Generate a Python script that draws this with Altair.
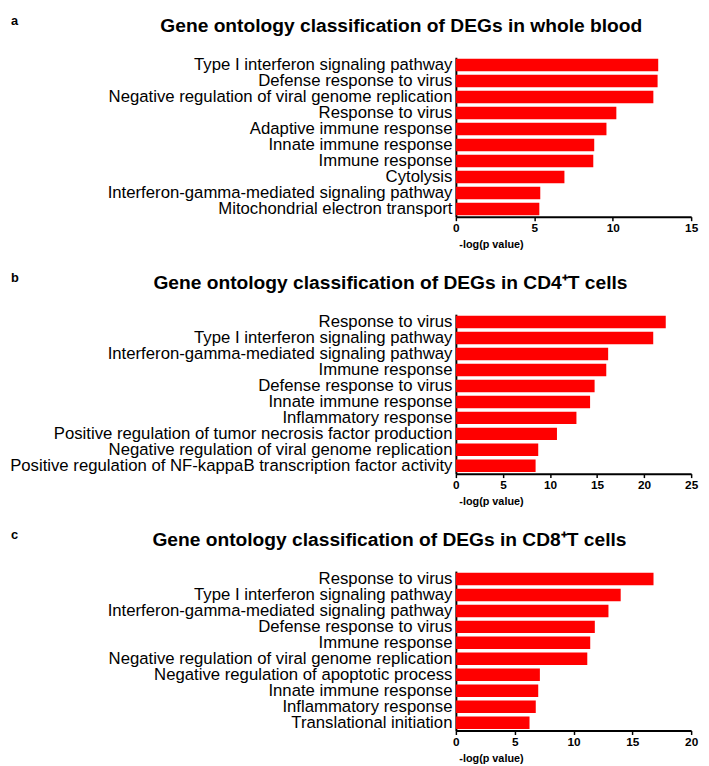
import altair as alt
import pandas as pd

# ---- data ----
a_terms = [
    "Type I interferon signaling pathway",
    "Defense response to virus",
    "Negative regulation of viral genome replication",
    "Response to virus",
    "Adaptive immune response",
    "Innate immune response",
    "Immune response",
    "Cytolysis",
    "Interferon-gamma-mediated signaling pathway",
    "Mitochondrial electron transport",
]
a_vals = [12.9, 12.86, 12.59, 10.23, 9.6, 8.82, 8.76, 6.92, 5.38, 5.32]

b_terms = [
    "Response to virus",
    "Type I interferon signaling pathway",
    "Interferon-gamma-mediated signaling pathway",
    "Immune response",
    "Defense response to virus",
    "Innate immune response",
    "Inflammatory response",
    "Positive regulation of tumor necrosis factor production",
    "Negative regulation of viral genome replication",
    "Positive regulation of NF-kappaB transcription factor activity",
]
b_vals = [22.3, 20.97, 16.18, 15.98, 14.74, 14.26, 12.81, 10.74, 8.75, 8.47]

c_terms = [
    "Response to virus",
    "Type I interferon signaling pathway",
    "Interferon-gamma-mediated signaling pathway",
    "Defense response to virus",
    "Immune response",
    "Negative regulation of viral genome replication",
    "Negative regulation of apoptotic process",
    "Innate immune response",
    "Inflammatory response",
    "Translational initiation",
]
c_vals = [16.8, 14.01, 12.97, 11.81, 11.42, 11.17, 7.14, 7.0, 6.79, 6.26]

a_ticks = [0, 5, 10, 15]
b_ticks = [0, 5, 10, 15, 20, 25]
c_ticks = [0, 5, 10, 15, 20]

titles = [
    "Gene ontology classification of DEGs in whole blood",
    "Gene ontology classification of DEGs in CD4\u207aT cells",
    "Gene ontology classification of DEGs in CD8\u207aT cells",
]
letters = ["a", "b", "c"]
x_title = "-log(p value)"

FONT = "Liberation Sans"
W, H = 239, 162
LETTER_X = -452


def panel(letter, title, terms, vals, ticks, title_dx):
    df = pd.DataFrame({"term": terms, "value": vals})
    bars = alt.Chart(df).mark_bar(color="#ff0000").encode(
        x=alt.X(
            "value:Q",
            scale=alt.Scale(domain=[ticks[0], ticks[-1]], nice=False),
            axis=alt.Axis(
                values=ticks,
                title=x_title,
                grid=False,
                domainColor="black",
                domainWidth=2,
                tickColor="black",
                tickWidth=1.5,
                tickSize=4,
                labelFont=FONT,
                labelFontSize=12,
                labelFontWeight="bold",
                labelColor="black",
                labelPadding=2,
                labelFlush=False,
                titleFont=FONT,
                titleFontSize=11,
                titleFontWeight="bold",
                titleColor="black",
                titleAlign="left",
                titleBaseline="alphabetic",
                titleX=3,
                titleY=31,
            ),
        ),
        y=alt.Y(
            "term:N",
            sort=terms,
            scale=alt.Scale(paddingInner=0.22, paddingOuter=0.1),
            axis=alt.Axis(
                title=None,
                ticks=False,
                domainColor="black",
                domainWidth=2,
                labelFont=FONT,
                labelFontSize=17,
                labelColor="black",
                labelPadding=4,
                labelLimit=600,
            ),
        ),
    )
    lab = alt.Chart(pd.DataFrame({"t": [letter]})).mark_text(
        align="left", baseline="alphabetic", font=FONT, fontWeight="bold",
        fontSize=13, color="black",
    ).encode(x=alt.value(LETTER_X), y=alt.value(-33), text="t:N")
    return alt.layer(bars, lab).properties(
        width=W,
        height=H,
        title=alt.TitleParams(
            title, anchor="middle", frame="group", offset=-20, dy=17, dx=title_dx,
            baseline="alphabetic", font=FONT, fontSize=19.5, fontWeight="bold",
            color="black",
        ),
    )


pa = panel(letters[0], titles[0], a_terms, a_vals, a_ticks, -175)
pb = panel(letters[1], titles[1], b_terms, b_vals, b_ticks, -186)
pc = panel(letters[2], titles[2], c_terms, c_vals, c_ticks, -187)

chart = alt.vconcat(pa, pb, pc, spacing=21).properties(
    padding={"left": 0, "top": 0, "right": 2, "bottom": 0}
).configure_view(stroke="transparent")

chart.save("out.html", embed_options={"renderer": "svg", "actions": False})
